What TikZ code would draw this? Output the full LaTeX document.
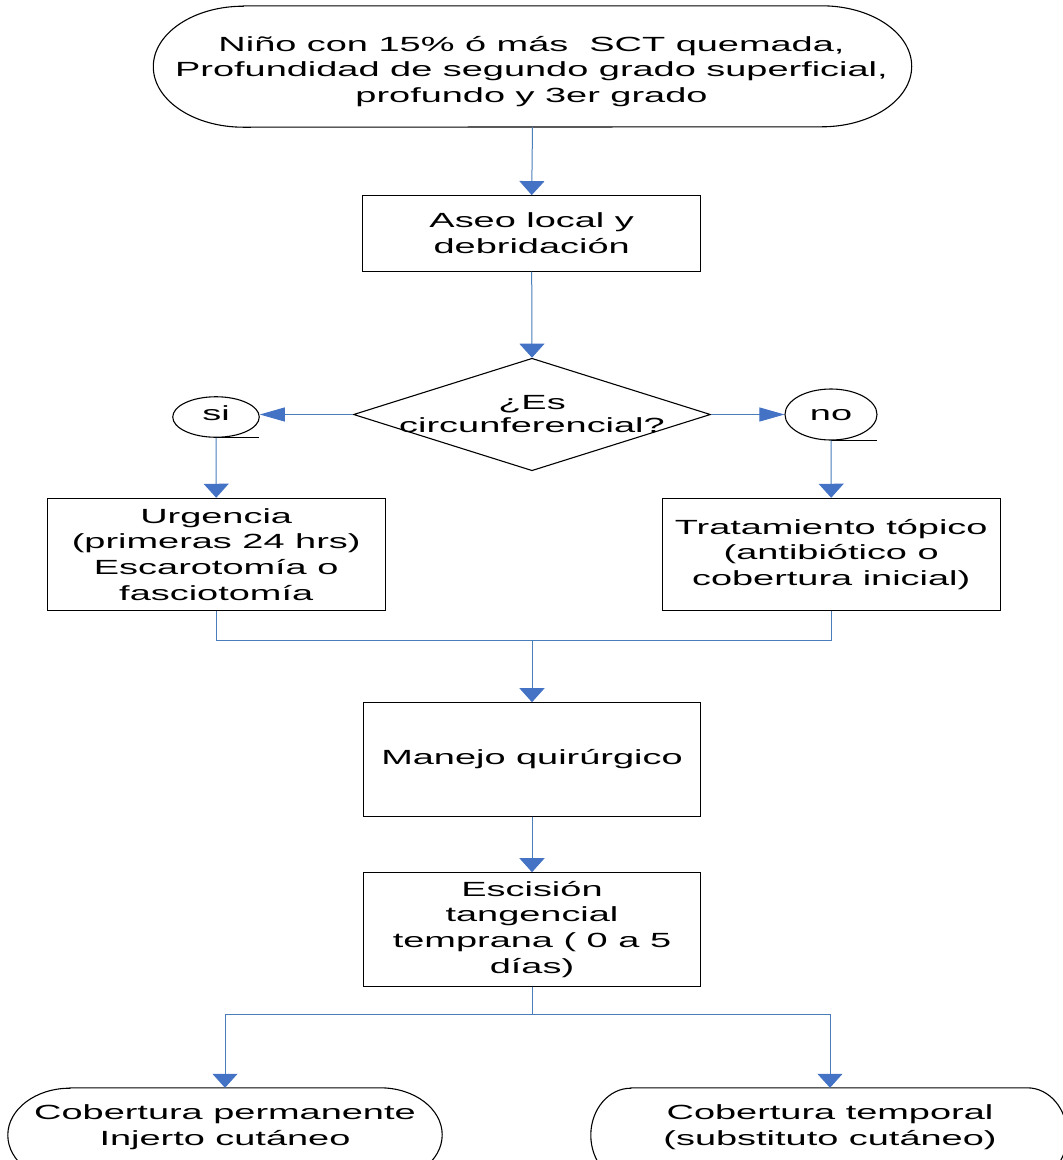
\documentclass[tikz,border=0pt]{standalone}
\usepackage{fontspec}
\setmainfont{Liberation Sans}[FakeStretch=1.85]
\usetikzlibrary{arrows.meta,shapes.geometric}
\definecolor{lnblue}{HTML}{4A7EBB}
\definecolor{tipblue}{HTML}{4472C4}
\tikzset{
 txt/.style={align=center, inner sep=0pt, font=\fontsize{20.5}{25.7}\selectfont},
 shp/.style={draw=black, line width=1.1pt, inner sep=0pt},
 boxn/.style={shp, rectangle, txt},
 conn/.style={draw=lnblue, line width=1pt},
 varr/.style={conn, -{Triangle[length=14pt,width=25pt,color=tipblue]}},
 harr/.style={conn, -{Triangle[length=25pt,width=14pt,color=tipblue]}},
}
\newcommand\termoutline[3]{%
 \draw[line width=1.1pt] ([xshift=#2]#1.north west) -- ([xshift=-#2]#1.north east)
  arc[start angle=90,end angle=-90,x radius=#2,y radius=#3]
  -- ([xshift=#2]#1.south west)
  arc[start angle=270,end angle=90,x radius=#2,y radius=#3] -- cycle;}
\begin{document}
\begin{tikzpicture}[x=1pt,y=1pt]
\useasboundingbox (0,0) rectangle (1063,-1160);
\clip (0,0) rectangle (1063,-1160);

% start terminator
\node[minimum width=758, minimum height=121, inner sep=0pt] (start) at (532.5,-66.5) {};
\termoutline{start}{90}{60.5}
\node[txt, font=\fontsize{20.5}{25.5}\selectfont] (starttxt) at (531.5,-71.5) {Niño con 15\% ó más\ \ SCT quemada,\\Profundidad de segundo grado superficial,\\profundo y 3er grado};

% process boxes
\node[boxn, minimum width=338, minimum height=75.5] (aseo) at (531.7,-233.4) {Aseo local y\\debridación};

% decision
\node[diamond, shp, minimum width=357, minimum height=112.5] (dec) at (532,-414.5) {};
\node[txt, font=\fontsize{20.5}{22.7}\selectfont] (dectxt) at (532,-413.7) {¿Es\\circunferencial?};

% si / no
\node[ellipse, shp, minimum width=86.5, minimum height=40.5] (si) at (216,-417) {};
\node[txt, anchor=base] (sitxt) at (216,-420) {si};
\draw[line width=1pt] (si.south) -- ++(43,0);
\node[ellipse, shp, minimum width=92, minimum height=51] (no) at (831,-414.5) {};
\node[txt, anchor=base] (notxt) at (831,-420.5) {no};
\draw[line width=1pt] (no.south) -- ++(46,0);

\node[boxn, minimum width=337.7, minimum height=112.4] (urg) at (216.2,-554.5) {Urgencia\\(primeras 24 hrs)\\Escarotomía o\\fasciotomía};
\node[boxn, minimum width=337.7, minimum height=112.4] (trat) at (831.2,-554.5) {Tratamiento tópico\\(antibiótico o\\cobertura inicial)};

\node[boxn, minimum width=337.4, minimum height=113.3] (manejo) at (532,-759.4) {Manejo quirúrgico};
\node[boxn, minimum width=337.4, minimum height=113.3] (esc) at (532,-929.4) {Escisión\\tangencial\\temprana ( 0 a 5\\días)};

% bottom terminators
\node[minimum width=434, minimum height=94, inner sep=0pt] (perm) at (225,-1135) {};
\termoutline{perm}{62}{47}
\node[txt] (permtxt) at (225,-1127.3) {Cobertura permanente\\Injerto cutáneo};
\node[minimum width=476, minimum height=94, inner sep=0pt] (temp) at (829,-1135) {};
\termoutline{temp}{40}{47}
\node[txt] (temptxt) at (830,-1127.3) {Cobertura temporal\\(substituto cutáneo)};

% connectors
\draw[varr] (start.south) -- (aseo.north);
\draw[varr] (aseo.south) -- (dec.north);
\draw[harr] (dec.west) -- (dec.west -| si.east);
\draw[harr] (dec.east) -- (dec.east -| no.west);
\draw[varr] (si.south) -- (urg.north);
\draw[varr] (no.south) -- (trat.north);

\coordinate (m) at (532,-640);
\draw[conn] (urg.south) |- (m) -| (trat.south);
\draw[varr] (m) -- (manejo.north);
\draw[varr] (manejo.south) -- (esc.north);

\coordinate (s) at (532,-1014);
\draw[conn] (esc.south) -- (s);
\draw[varr] (s) -| (perm.north);
\draw[varr] (s) -| ([xshift=1]temp.north);
\end{tikzpicture}
\end{document}
